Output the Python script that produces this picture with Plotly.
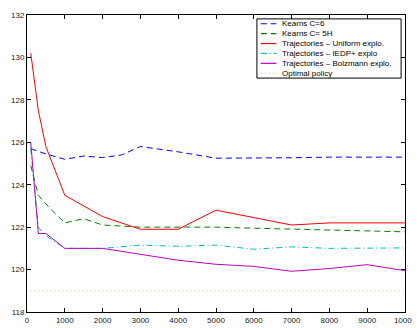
import plotly.graph_objects as go

kearns6_x = [100, 500, 1000, 1500, 2000, 2500, 3000, 4000, 5000, 6000, 7000, 8000, 9000, 10000]
kearns6_y = [125.7, 125.45, 125.2, 125.35, 125.28, 125.4, 125.8, 125.55, 125.25, 125.25, 125.27, 125.3, 125.3, 125.3]

kearns5h_x = [100, 300, 600, 1000, 1500, 2000, 3000, 4000, 5000, 6000, 7000, 8000, 9000, 10000]
kearns5h_y = [124.9, 123.5, 122.9, 122.2, 122.4, 122.1, 122.0, 122.0, 122.0, 121.95, 121.9, 121.85, 121.8, 121.78]

traj_x = [100, 300, 500, 1000, 2000, 3000, 4000, 5000, 6000, 7000, 8000, 9000, 10000]
uniform_y = [130.2, 127.5, 125.8, 123.5, 122.5, 121.9, 121.9, 122.8, 122.45, 122.1, 122.2, 122.2, 122.2]
iedp_y = [125.7, 122.0, 121.6, 121.0, 121.0, 121.15, 121.1, 121.15, 120.96, 121.07, 121.0, 121.0, 121.02]
bolz_y = [126.0, 121.7, 121.7, 121.0, 121.0, 120.72, 120.44, 120.25, 120.15, 119.92, 120.05, 120.23, 119.95]

optimal_x = [100, 10000]
optimal_y = [119.0, 119.0]

x_ticks = [0, 1000, 2000, 3000, 4000, 5000, 6000, 7000, 8000, 9000, 10000]
y_ticks = [118, 120, 122, 124, 126, 128, 130, 132]

series = [
    ("Kearns C=6", kearns6_x, kearns6_y, "#0000ff", "6px,4px"),
    ("Kearns C= 5H", kearns5h_x, kearns5h_y, "#008000", "6px,4px"),
    ("Trajectories \u2013 Uniform explo.", traj_x, uniform_y, "#ff0000", "solid"),
    ("Trajectories \u2013 IEDP+ explo", traj_x, iedp_y, "#00bfbf", "6px,3px,1px,3px"),
    ("Trajectories \u2013 Bolzmann explo.", traj_x, bolz_y, "#bf00bf", "solid"),
    ("Optimal policy", optimal_x, optimal_y, "#d4d430", "1px,3px"),
]

FONT = "Liberation Sans, Arial, Helvetica"

fig = go.Figure()
for name, xs, ys, col, dash in series:
    fig.add_trace(go.Scatter(x=xs, y=ys, mode="lines", name=name, showlegend=False,
                             line=dict(color=col, width=1, dash=dash)))

# plot area in page pixels: x 23..411, y 11..317
L, R, T, B = 23.0, 411.0, 11.0, 317.0
def px(x):
    return (x - L) / (R - L)
def py(y):
    return (B - y) / (B - T)

# legend box (manual, compact MATLAB-style legend)
fig.add_shape(type="rect", xref="paper", yref="paper",
              x0=px(259), x1=px(407), y0=py(76), y1=py(15),
              line=dict(color="black", width=1), fillcolor="white", layer="above")
row_y = [20.0, 30.2, 40.4, 50.6, 60.8, 71.0]
for (name, xs, ys, col, dash), ry in zip(series, row_y):
    fig.add_shape(type="line", xref="paper", yref="paper",
                  x0=px(263), x1=px(279), y0=py(ry), y1=py(ry),
                  line=dict(color=col, width=1.2, dash=dash), layer="above")
    fig.add_annotation(xref="paper", yref="paper", x=px(283), y=py(ry),
                       text=name, showarrow=False, xanchor="left", yanchor="middle",
                       font=dict(family=FONT, size=8, color="black"))

axis_common = dict(showline=True, linecolor="black", linewidth=1, mirror="ticks",
                   ticks="inside", ticklen=4, tickcolor="black", showgrid=False,
                   zeroline=False, tickfont=dict(family=FONT, size=8, color="#222"))

fig.update_xaxes(range=[0, 10000], tickvals=x_ticks, ticktext=[str(v) for v in x_ticks],
                 ticklabeloverflow="allow", **axis_common)
fig.update_yaxes(range=[118, 132], tickvals=y_ticks, ticktext=[str(v) for v in y_ticks],
                 ticklabeloverflow="allow", **axis_common)

# page body has an 8px default margin, so the figure is 412x320 placed at (8,8)
fig.update_layout(
    width=412, height=320,
    margin=dict(l=15, r=9, t=3, b=11),
    plot_bgcolor="white", paper_bgcolor="white",
    font=dict(family=FONT, size=8, color="black"),
    showlegend=False,
)

fig.write_html("out.html")
